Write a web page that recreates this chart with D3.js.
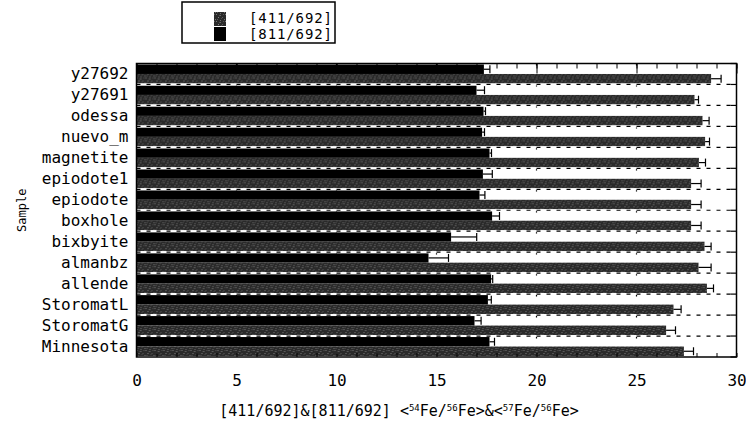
<!DOCTYPE html>
<html>
<head>
<meta charset="utf-8">
<script src="https://cdn.jsdelivr.net/npm/d3@7"></script>
<style>
  body { margin: 0; background: #fff; }
  text { font-family: "DejaVu Sans Mono", monospace; fill: #000; }
</style>
</head>
<body>
<script>
// sample names, top to bottom
var samples = ["y27692", "y27691", "odessa", "nuevo_m", "magnetite", "epiodote1", "epiodote",
               "boxhole", "bixbyite", "almanbz", "allende", "StoromatL", "StoromatG", "Minnesota"];

// [811/692] (black bars) and their errors
var ratio811 = [17.37, 17.0, 17.35, 17.28, 17.65, 17.32, 17.15, 17.78, 15.73, 14.6, 17.73, 17.57, 16.9, 17.65];
var err811   = [0.3, 0.4, 0.1, 0.12, 0.1, 0.47, 0.27, 0.37, 1.28, 1.0, 0.08, 0.17, 0.33, 0.25];

// [411/692] (grey bars) and their errors
var ratio411 = [28.73, 27.9, 28.3, 28.43, 28.12, 27.73, 27.73, 27.73, 28.4, 28.1, 28.52, 26.85, 26.48, 27.37];
var err411   = [0.5, 0.2, 0.33, 0.22, 0.33, 0.5, 0.5, 0.5, 0.33, 0.63, 0.33, 0.38, 0.47, 0.48];

var xTicks = [0, 5, 10, 15, 20, 25, 30];
var legendLabels = ["[411/692]", "[811/692]"];

var margin = {top: 63.5, right: 9.5, bottom: 68, left: 136.5},
    width = 746 - margin.left - margin.right,
    height = 425 - margin.top - margin.bottom;

var data = samples.map(function(s, i) {
    return {name: s, v811: ratio811[i], e811: err811[i], v411: ratio411[i], e411: err411[i]};
});

var xScale = d3.scaleLinear().domain([0, 30]).range([0, width]);
var yScale = d3.scaleBand().domain(samples).range([0, height]);
// inner band: black bar on top, grey bar below
var sub = d3.scaleBand().domain(["811", "411"]).range([1, yScale.bandwidth() - 1]);

var root = d3.select("body").append("svg")
    .attr("width", 746)
    .attr("height", 425);

// speckled grey fill like the printed halftone (irregular dots in an 9x7 tile)
var defs = root.append("defs");
var pat = defs.append("pattern")
    .attr("id", "speckle")
    .attr("width", 9).attr("height", 7)
    .attr("patternUnits", "userSpaceOnUse");
pat.append("rect").attr("width", 9).attr("height", 7).attr("fill", "#2a2a2a");
[[0,0,"#7a7a7a"],[4,1,"#666"],[7,0,"#555"],[2,3,"#808080"],[6,3,"#5c5c5c"],
 [8,5,"#727272"],[1,5,"#5a5a5a"],[4,6,"#6e6e6e"],[5,4,"#4c4c4c"],[3,1,"#505050"]]
  .forEach(function(p) {
    pat.append("rect").attr("x", p[0]).attr("y", p[1])
        .attr("width", 1).attr("height", 1).attr("fill", p[2]);
  });

var svg = root.append("g")
    .attr("transform", "translate(" + margin.left + "," + margin.top + ")");

// vertical dotted grid
svg.selectAll(".vgrid")
    .data(xTicks.slice(1, -1))
    .enter().append("line")
    .attr("x1", d => xScale(d)).attr("x2", d => xScale(d))
    .attr("y1", 0).attr("y2", height)
    .attr("stroke", "#000")
    .attr("stroke-width", 1.2)
    .attr("stroke-dasharray", "2,19");

// bars
var rows = svg.selectAll(".row")
    .data(data)
    .enter().append("g")
    .attr("transform", d => "translate(0," + yScale(d.name) + ")");

rows.append("rect")
    .attr("x", 0)
    .attr("y", sub("811"))
    .attr("width", d => xScale(d.v811))
    .attr("height", sub.bandwidth())
    .attr("fill", "#000");

rows.append("rect")
    .attr("x", 0)
    .attr("y", sub("411"))
    .attr("width", d => xScale(d.v411))
    .attr("height", sub.bandwidth())
    .attr("fill", "url(#speckle)");

// error bars (right side only shows)
function errBar(sel, key, ekey, s) {
    var cy = sub(s) + sub.bandwidth() / 2;
    sel.append("line")
        .attr("x1", d => xScale(d[key]))
        .attr("x2", d => xScale(d[key] + d[ekey]))
        .attr("y1", cy).attr("y2", cy)
        .attr("stroke", "#000").attr("stroke-width", 1.2);
    sel.append("line")
        .attr("x1", d => xScale(d[key] + d[ekey]))
        .attr("x2", d => xScale(d[key] + d[ekey]))
        .attr("y1", cy - 4).attr("y2", cy + 4)
        .attr("stroke", "#000").attr("stroke-width", 1.2);
}
errBar(rows, "v811", "e811", "811");
errBar(rows, "v411", "e411", "411");

// horizontal dashed lines between samples
svg.selectAll(".hgrid")
    .data(samples.slice(1))
    .enter().append("line")
    .attr("x1", 0).attr("x2", width)
    .attr("y1", d => yScale(d)).attr("y2", d => yScale(d))
    .attr("stroke", "#fff").attr("stroke-width", 2);
svg.selectAll(".hgrid2")
    .data(samples.slice(1))
    .enter().append("line")
    .attr("x1", 0).attr("x2", width)
    .attr("y1", d => yScale(d)).attr("y2", d => yScale(d))
    .attr("stroke", "#000").attr("stroke-width", 1.2)
    .attr("stroke-dasharray", "4,6");

// frame
svg.append("rect")
    .attr("width", width).attr("height", height)
    .attr("fill", "none").attr("stroke", "#000").attr("stroke-width", 1.5);

// top ticks, minor every 1, major every 5
var topMinor = d3.axisTop(xScale).ticks(30).tickSize(-5).tickFormat("");
svg.append("g").call(topMinor).call(g => g.select(".domain").remove());
svg.append("g").call(d3.axisTop(xScale).tickValues(xTicks).tickSize(-10).tickFormat(""))
    .call(g => g.select(".domain").remove());
// bottom ticks
svg.append("g").attr("transform", "translate(0," + height + ")")
    .call(d3.axisBottom(xScale).ticks(30).tickSize(-4).tickFormat(""))
    .call(g => g.select(".domain").remove());

// bottom tick labels
var xAxis = svg.append("g").attr("transform", "translate(0," + height + ")")
    .call(d3.axisBottom(xScale).tickValues(xTicks).tickSize(0).tickPadding(18));
xAxis.select(".domain").remove();
xAxis.selectAll("text").attr("font-size", 16).attr("font-family", "DejaVu Sans Mono");

// right axis ticks at sample boundaries
svg.append("g").attr("transform", "translate(" + width + ",0)")
    .selectAll("line")
    .data(samples.concat(["end"]))
    .enter().append("line")
    .attr("x1", -6).attr("x2", 0)
    .attr("y1", (d, i) => i * yScale.step()).attr("y2", (d, i) => i * yScale.step())
    .attr("stroke", "#000").attr("stroke-width", 1.2);

// left sample labels
var yAxis = svg.append("g")
    .call(d3.axisLeft(yScale).tickSize(0).tickPadding(8));
yAxis.select(".domain").remove();
yAxis.selectAll("text").attr("font-size", 16).attr("font-family", "DejaVu Sans Mono");

// axis titles
root.append("text")
    .attr("transform", "translate(26," + (margin.top + height / 2) + ") rotate(-90)")
    .attr("text-anchor", "middle")
    .attr("font-size", 12)
    .text("Sample");

var xt = root.append("text")
    .attr("x", 399).attr("y", 416)
    .attr("text-anchor", "middle")
    .attr("font-size", 15);
xt.append("tspan").text("[411/692]&[811/692]  <");
xt.append("tspan").attr("font-size", 9).attr("dy", -5).text("54");
xt.append("tspan").attr("dy", 5).text("Fe/");
xt.append("tspan").attr("font-size", 9).attr("dy", -5).text("56");
xt.append("tspan").attr("dy", 5).text("Fe>&<");
xt.append("tspan").attr("font-size", 9).attr("dy", -5).text("57");
xt.append("tspan").attr("dy", 5).text("Fe/");
xt.append("tspan").attr("font-size", 9).attr("dy", -5).text("56");
xt.append("tspan").attr("dy", 5).text("Fe>");

// legend
var lg = root.append("g");
lg.append("rect")
    .attr("x", 182).attr("y", 2).attr("width", 153).attr("height", 41)
    .attr("fill", "#fff").attr("stroke", "#000").attr("stroke-width", 1.5);
var fills = ["url(#speckle)", "#000"];
legendLabels.forEach(function(l, i) {
    lg.append("rect")
        .attr("x", 214).attr("y", 12 + i * 15).attr("width", 12).attr("height", 14)
        .attr("fill", fills[i]);
    lg.append("text")
        .attr("x", 249).attr("y", 22.5 + i * 16)
        .attr("font-size", 14)
        .attr("textLength", 83)
        .text(l);
});
</script>
</body>
</html>
